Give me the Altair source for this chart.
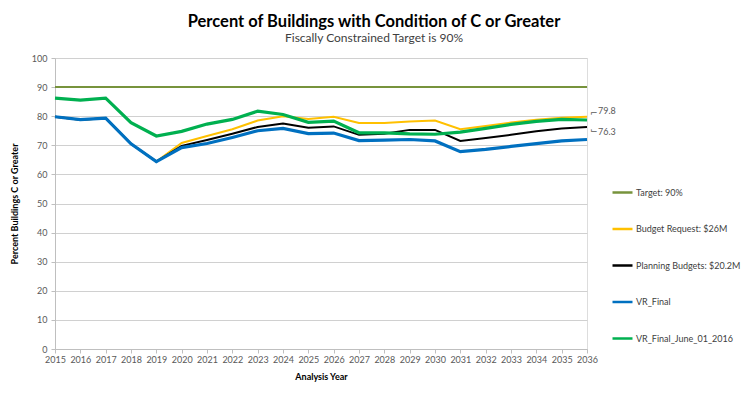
import altair as alt
import pandas as pd

years = list(range(2015, 2037))
target = [90] * 22
budget_request = [79.8, 78.8, 79.3, 70.5, 64.4, 70.8, 73.2, 75.5, 78.5, 80.0, 79.0, 79.8,
                  77.7, 77.7, 78.2, 78.5, 75.5, 76.6, 77.8, 78.8, 79.5, 79.8]
planning = [79.8, 78.8, 79.3, 70.5, 64.4, 69.8, 71.8, 74.0, 76.3, 77.5, 76.0, 76.5,
            73.6, 74.0, 75.3, 75.3, 71.5, 72.5, 73.6, 74.8, 75.8, 76.3]
vr_final = [79.8, 78.8, 79.3, 70.5, 64.4, 69.2, 70.6, 72.7, 75.0, 75.8, 74.0, 74.2,
            71.6, 71.8, 72.0, 71.5, 67.8, 68.6, 69.6, 70.6, 71.5, 72.0]
vr_june = [86.2, 85.5, 86.2, 77.8, 73.2, 74.8, 77.3, 78.9, 81.7, 80.6, 77.9, 78.3,
           74.3, 74.3, 73.9, 73.8, 74.5, 75.8, 77.2, 78.2, 78.9, 78.7]

series_names = ["Target: 90%", "Budget Request: $26M", "Planning Budgets: $20.2M",
                "VR_Final", "VR_Final_June_01_2016"]
series_values = [target, budget_request, planning, vr_final, vr_june]
series_colors = ["#77933C", "#FFC000", "#000000", "#0070C0", "#00B050"]
series_widths = [2, 2, 2, 3.2, 3.2]

rows = []
for name, vals in zip(series_names, series_values):
    for y, v in zip(years, vals):
        rows.append({"year": y, "value": v, "series": name})
df = pd.DataFrame(rows)

FONT = "Lato"

x_enc = alt.X("year:Q", title="Analysis Year",
              scale=alt.Scale(domain=[2015, 2036], nice=False, zero=False),
              axis=alt.Axis(values=years, format="d", grid=False, labelFlush=False,
                            labelOverlap=False,
                            labelFontSize=9, labelColor="#595959", tickColor="#BFBFBF",
                            domainColor="#BFBFBF", titleFontSize=9, titleFontWeight="bold",
                            titleColor="#000000", titlePadding=8, tickSize=4))
y_enc = alt.Y("value:Q", title="Percent Buildings C or Greater",
              scale=alt.Scale(domain=[0, 100], nice=False),
              axis=alt.Axis(values=list(range(0, 101, 10)), grid=True, gridColor="#D0D0D0",
                            labelOverlap=False,
                            labelFontSize=9, labelColor="#595959", tickColor="#BFBFBF",
                            domainColor="#BFBFBF", titleFontSize=9, titleFontWeight="bold",
                            titleColor="#000000", titlePadding=12, tickSize=4, labelPadding=4))
color_enc = alt.Color("series:N", scale=alt.Scale(domain=series_names, range=series_colors),
                      legend=alt.Legend(title=None, orient="none", legendX=556, legendY=123,
                                        symbolType="stroke", symbolSize=400,
                                        symbolStrokeWidth=2.5, labelFontSize=9,
                                        labelColor="#404040", rowPadding=19.5,
                                        labelOffset=2))

layers = []
for name, w in zip(series_names, series_widths):
    layers.append(
        alt.Chart(df).transform_filter(alt.datum.series == name)
        .mark_line(strokeWidth=w)
        .encode(x=x_enc, y=y_enc, color=color_enc)
    )

last = pd.DataFrame({
    "year": [years[-1], years[-1]],
    "value": [budget_request[-1], planning[-1]],
    "label": [f"{budget_request[-1]:.1f}", f"{planning[-1]:.1f}"],
})
lab_up = alt.Chart(last.iloc[[0]]).mark_text(align="left", dx=11, dy=-6, fontSize=9,
                                              color="#595959", font=FONT).encode(
    x=x_enc, y=y_enc, text="label:N")
lab_dn = alt.Chart(last.iloc[[1]]).mark_text(align="left", dx=11, dy=5, fontSize=9,
                                              color="#595959", font=FONT).encode(
    x=x_enc, y=y_enc, text="label:N")
lead_up = alt.Chart(last.iloc[[0]]).mark_text(align="left", dx=3, dy=-4, fontSize=9,
                                               color="#595959", text="\u2310", font="DejaVu Sans").encode(
    x=x_enc, y=y_enc)
lead_dn = alt.Chart(last.iloc[[1]]).mark_text(align="left", dx=3, dy=3, fontSize=9,
                                               color="#595959", text="\u2319", font="DejaVu Sans").encode(
    x=x_enc, y=y_enc)

chart = alt.layer(*layers, lab_up, lab_dn, lead_up, lead_dn).properties(
    width=532, height=291,
    title=alt.TitleParams(
        "Percent of Buildings with Condition of C or Greater",
        subtitle="Fiscally Constrained Target is 90%",
        anchor="middle", dx=53, fontSize=16.5, fontWeight="bold", font=FONT,
        color="#000000", subtitleFont=FONT, subtitleFontSize=12,
        subtitleColor="#404040", offset=10, subtitlePadding=3),
    autosize=alt.AutoSizeParams(type="none"),
    padding={"left": 47, "top": 50, "right": 155, "bottom": 38},
).configure_view(stroke=None).configure(font=FONT).configure_axis(labelFont=FONT, titleFont=FONT
).configure_legend(labelFont=FONT)

chart.save("out.html", embed_options={"renderer": "svg", "actions": False})
